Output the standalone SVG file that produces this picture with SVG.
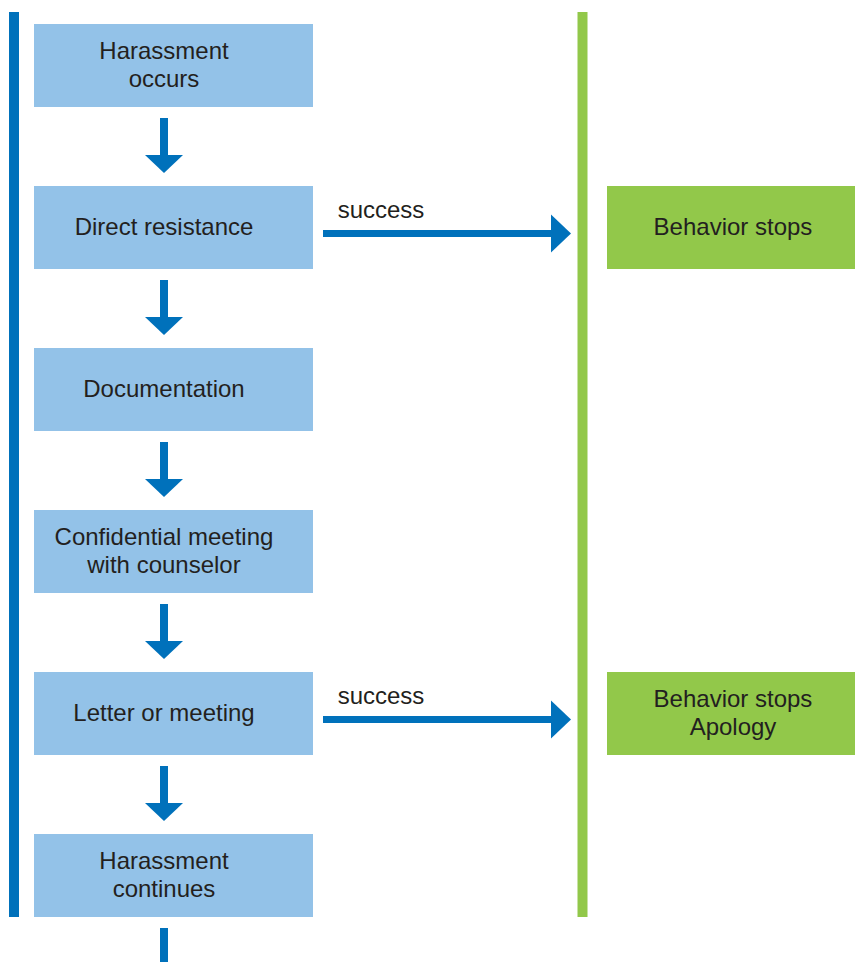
<svg xmlns="http://www.w3.org/2000/svg" width="855" height="962" viewBox="0 0 855 962">
<defs>
<style>
.box{fill:#93c2e8}
.gbox{fill:#92c84a}
.t{font-family:"Liberation Sans",Arial,sans-serif;font-size:24px;fill:#231f20;text-anchor:middle}
.conn{fill:#0071bb}
</style>
<g id="dn"><rect x="-4" y="0" width="8" height="37"/><polygon points="-19,37 19,37 0,55"/></g>
<g id="rt"><rect x="0" y="-3.5" width="229" height="7"/><polygon points="228,-19 228,19 248,0"/></g>
</defs>
<rect width="855" height="962" fill="#fff"/>
<g id="bars">
<rect x="9" y="12" width="10" height="905" fill="#0071bb"/>
<rect x="577.5" y="12" width="10" height="905" fill="#92c84a"/>
</g>
<g id="n1"><rect class="box" x="34" y="24" width="279" height="83"/><text class="t" x="164" y="58.5">Harassment</text><text class="t" x="164" y="87">occurs</text></g>
<g id="n2"><rect class="box" x="34" y="186" width="279" height="83"/><text class="t" x="164" y="234.5">Direct resistance</text></g>
<g id="n3"><rect class="box" x="34" y="348" width="279" height="83"/><text class="t" x="164" y="396.5">Documentation</text></g>
<g id="n4"><rect class="box" x="34" y="510" width="279" height="83"/><text class="t" x="164" y="544.5">Confidential meeting</text><text class="t" x="164" y="573">with counselor</text></g>
<g id="n5"><rect class="box" x="34" y="672" width="279" height="83"/><text class="t" x="164" y="720.5">Letter or meeting</text></g>
<g id="n6"><rect class="box" x="34" y="834" width="279" height="83"/><text class="t" x="164" y="868.5">Harassment</text><text class="t" x="164" y="897">continues</text></g>
<g id="g1"><rect class="gbox" x="607" y="186" width="248" height="83"/><text class="t" x="733" y="234.5">Behavior stops</text></g>
<g id="g2"><rect class="gbox" x="607" y="672" width="248" height="83"/><text class="t" x="733" y="706.5">Behavior stops</text><text class="t" x="733" y="735">Apology</text></g>
<g id="connectors" class="conn">
<use href="#dn" x="164" y="118"/>
<use href="#dn" x="164" y="280"/>
<use href="#dn" x="164" y="442"/>
<use href="#dn" x="164" y="604"/>
<use href="#dn" x="164" y="766"/>
<rect x="160" y="928" width="8" height="34"/>
<use href="#rt" x="323" y="233.5"/>
<use href="#rt" x="323" y="719.5"/>
<text class="t" x="381" y="217.5">success</text>
<text class="t" x="381" y="703.5">success</text>
</g>
</svg>
